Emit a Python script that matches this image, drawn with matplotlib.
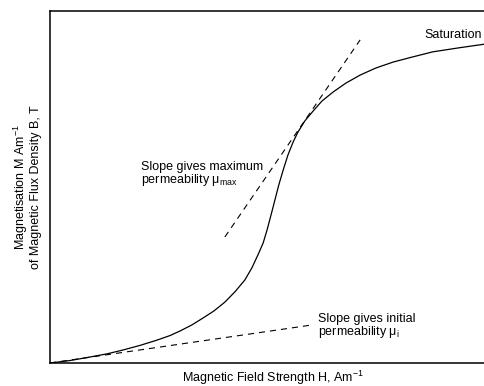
import matplotlib
matplotlib.use("Agg")
import matplotlib.pyplot as plt

plt.rcParams['font.family'] = ['Liberation Sans', 'DejaVu Sans']
plt.rcParams['mathtext.fontset'] = 'custom'
plt.rcParams['mathtext.rm'] = 'Liberation Sans'
plt.rcParams['mathtext.it'] = 'Liberation Sans'

# magnetisation curve (H and M in % of the axes)
h = [0, 4.6, 9.2, 13.1, 16.8, 20.7, 24.6, 27.6, 29.9, 32.6, 35.2, 37.7,
     40.2, 42.5, 44.8, 46.4, 47.8, 49.0, 49.9, 50.8, 51.7, 52.6, 53.6,
     54.7, 55.9, 57.0, 58.6, 60.5, 62.5, 65.1, 68.0, 71.3, 74.9, 78.9,
     83.2, 88.0, 93.8, 100]
m = [0, 0.7, 1.7, 2.6, 3.7, 5.0, 6.5, 7.8, 9.1, 10.8, 12.8, 14.8,
     17.3, 20.2, 23.6, 27.0, 30.7, 34.1, 37.8, 42.0, 46.3, 50.6, 54.8,
     59.1, 62.8, 65.6, 68.8, 71.6, 74.4, 77.0, 79.5, 81.8, 83.8, 85.5,
     86.9, 88.4, 89.5, 90.6]

# tangent lines
tan_max_h = [40.2, 71.3]
tan_max_m = [35.8, 91.8]
tan_init_h = [0, 60.2]
tan_init_m = [0, 10.8]

fig = plt.figure(figsize=(4.85, 3.86), dpi=100)
ax = fig.add_axes([50/485, 1 - 363/386, 435/485, 352/386])

ax.plot(h, m, color='black', lw=0.9)
ax.plot(tan_max_h, tan_max_m, color='black', lw=0.8, linestyle=(0, (5.5, 4.5)))
ax.plot(tan_init_h, tan_init_m, color='black', lw=0.8, linestyle=(0, (5.5, 4.5)))

ax.set_xlim(0, 100)
ax.set_ylim(0, 100)
ax.set_xticks([])
ax.set_yticks([])
ax.spines['right'].set_visible(False)
for s in ['left', 'top', 'bottom']:
    ax.spines[s].set_linewidth(1.1)

fs = 9
ax.text(99.3, 93.2, 'Saturation', fontsize=fs, ha='right', va='center')
ax.text(20.9, 53.5, 'Slope gives maximum\npermeability μ$_{\\mathrm{max}}$',
        fontsize=fs, ha='left', va='center', linespacing=0.9)
ax.text(61.6, 10.4, 'Slope gives initial\npermeability μ$_{\\mathrm{i}}$',
        fontsize=fs, ha='left', va='center', linespacing=0.9)

fig.text(273/485, 1 - 378/386, 'Magnetic Field Strength H, Am$^{-1}$',
         fontsize=fs, ha='center', va='center')
fig.text(27/485, 1 - 187/386,
         'Magnetisation M Am$^{-1}$\nof Magnetic Flux Density B, T',
         fontsize=fs, ha='center', va='center', rotation=90,
         multialignment='center', linespacing=1.0)

fig.savefig('out.png', dpi=100)
